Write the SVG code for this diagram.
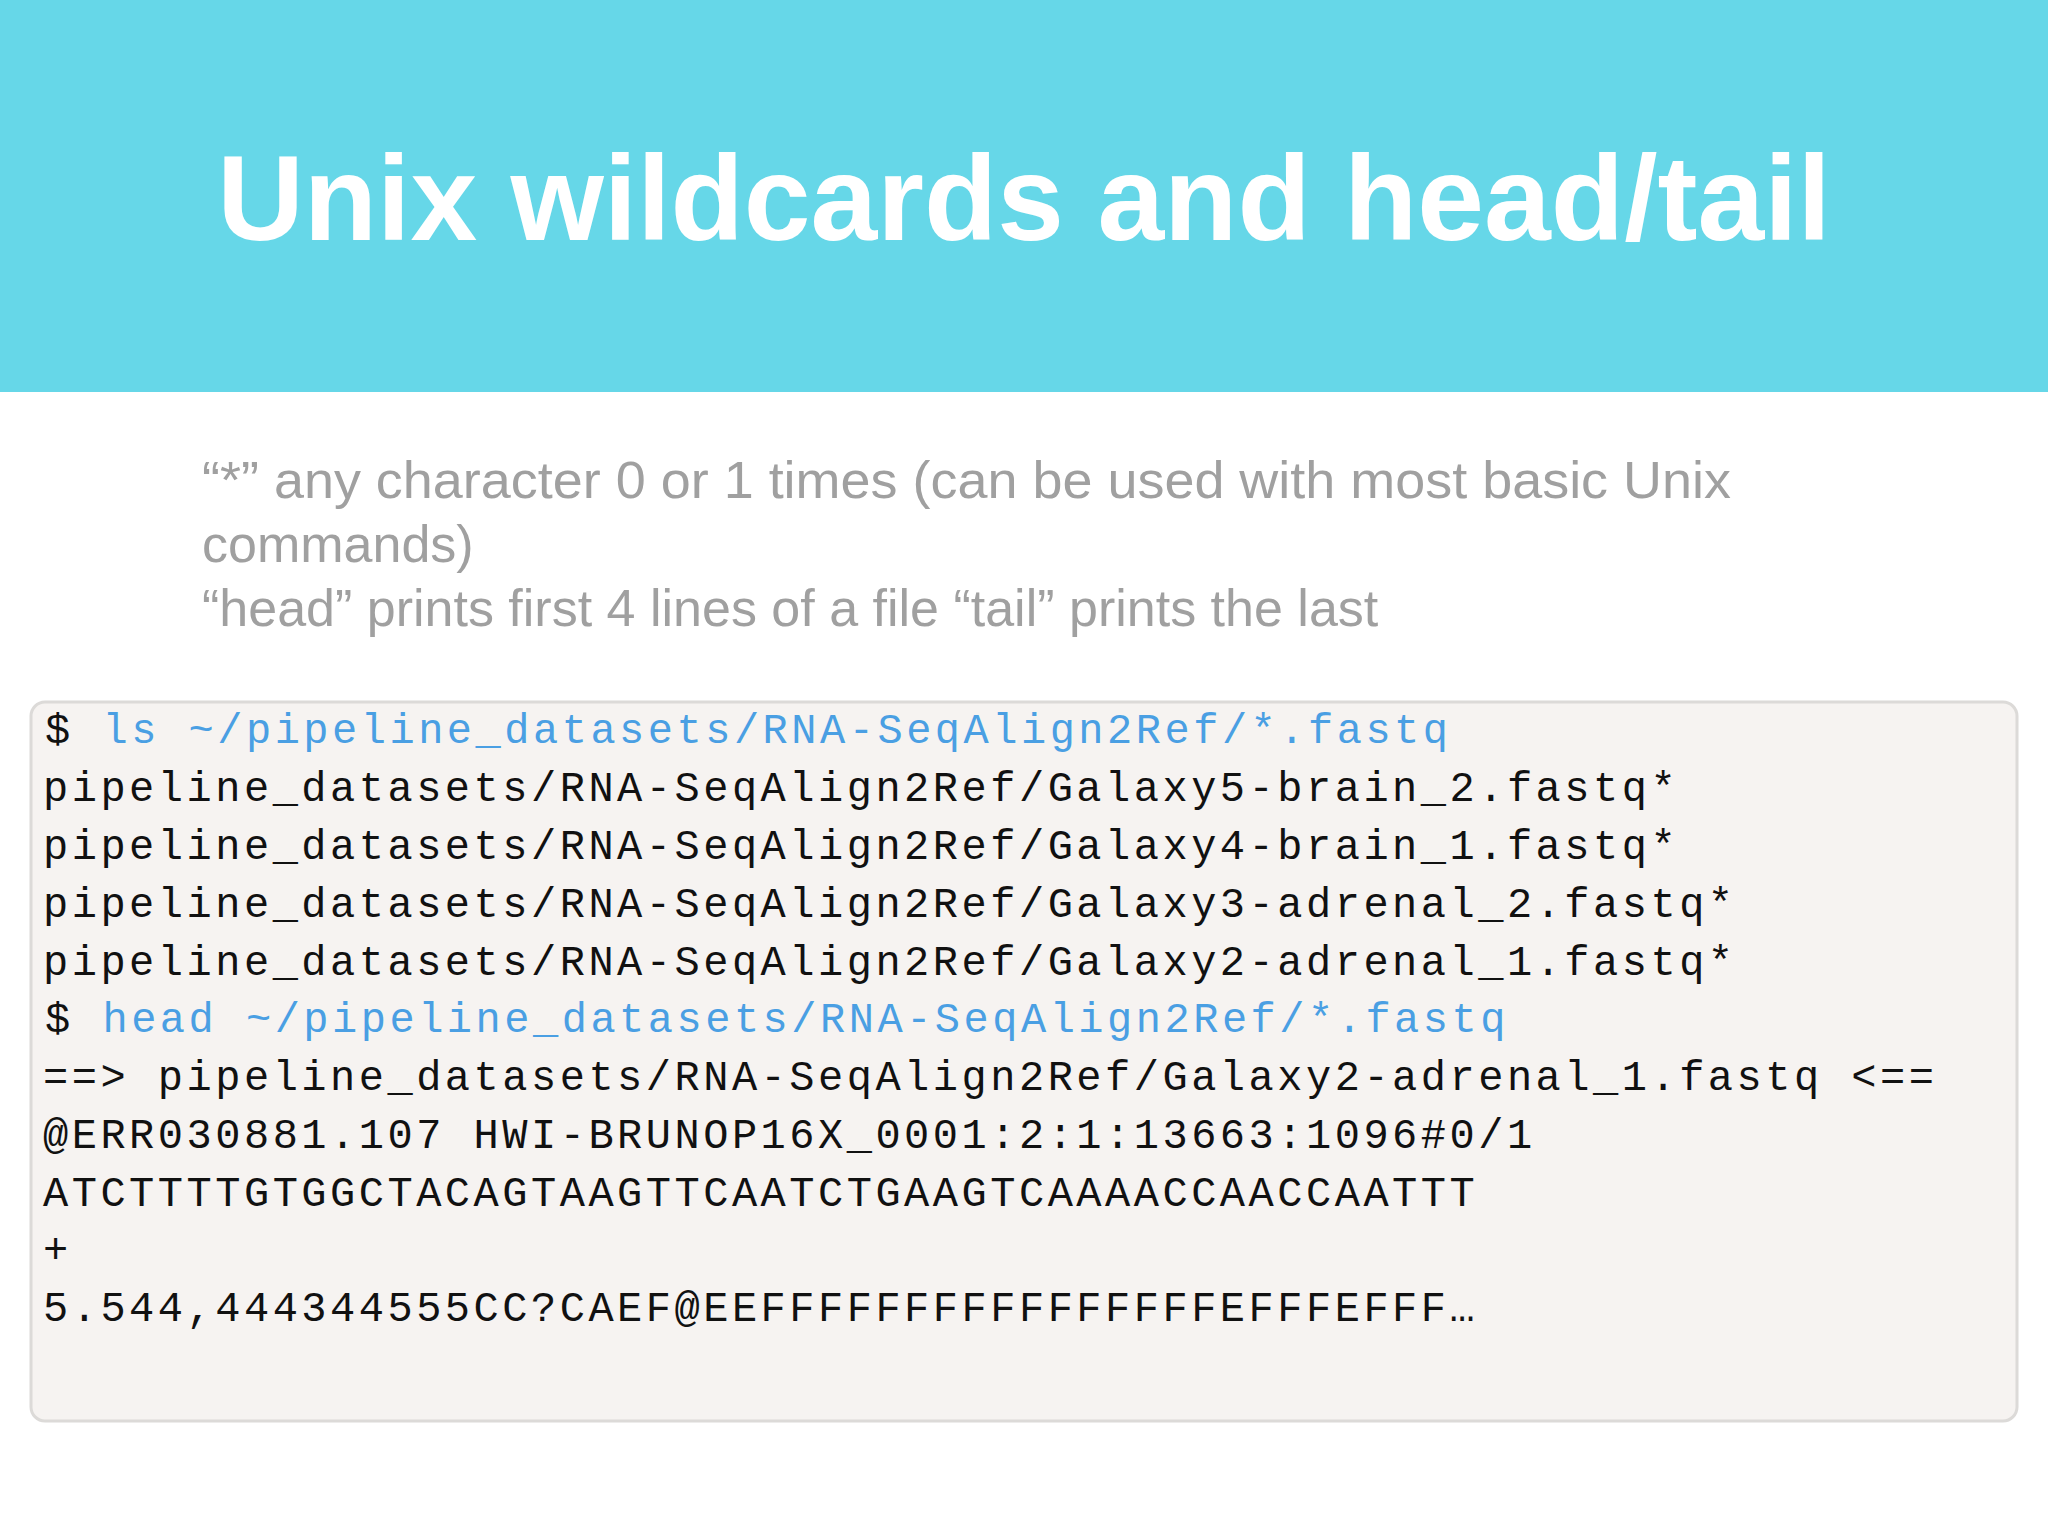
<svg xmlns="http://www.w3.org/2000/svg" width="2048" height="1536" viewBox="0 0 2048 1536">
<style>
.t{font-family:"Liberation Sans",Arial,sans-serif;font-weight:bold;fill:#fff}
.b{font-family:"Liberation Sans",Arial,sans-serif;fill:#a0a0a0;font-size:52px}
.m{font-family:"Liberation Mono","DejaVu Sans Mono",monospace;font-size:42px;letter-spacing:3.5px;fill:#111}
.c{fill:#4a9fe3}
</style>
<rect width="2048" height="1536" fill="#fff"/>
<g id="header">
<rect x="0" y="0" width="2048" height="392" fill="#66d7e8"/>
<text class="t" x="1024" y="240" font-size="120" text-anchor="middle">Unix wildcards and head/tail</text>
</g>
<g id="bullets">
<text class="b" x="202" y="498" textLength="1529" lengthAdjust="spacingAndGlyphs">“*” any character 0 or 1 times (can be used with most basic Unix</text>
<text class="b" x="202" y="562">commands)</text>
<text class="b" x="202" y="626">“head” prints first 4 lines of a file “tail” prints the last</text>
</g>
<g id="terminal">
<rect x="31" y="702" width="1986" height="719" rx="14" fill="#f6f3f1" stroke="#dcdad8" stroke-width="3"/>
<text class="m" x="45" y="743">$ <tspan class="c">ls ~/pipeline_datasets/RNA-SeqAlign2Ref/*.fastq</tspan></text>
<text class="m" x="43" y="801">pipeline_datasets/RNA-SeqAlign2Ref/Galaxy5-brain_2.fastq*</text>
<text class="m" x="43" y="859">pipeline_datasets/RNA-SeqAlign2Ref/Galaxy4-brain_1.fastq*</text>
<text class="m" x="43" y="917">pipeline_datasets/RNA-SeqAlign2Ref/Galaxy3-adrenal_2.fastq*</text>
<text class="m" x="43" y="975">pipeline_datasets/RNA-SeqAlign2Ref/Galaxy2-adrenal_1.fastq*</text>
<text class="m" x="45" y="1032">$ <tspan class="c">head ~/pipeline_datasets/RNA-SeqAlign2Ref/*.fastq</tspan></text>
<text class="m" x="43" y="1090">==&gt; pipeline_datasets/RNA-SeqAlign2Ref/Galaxy2-adrenal_1.fastq &lt;==</text>
<text class="m" x="43" y="1148">@ERR030881.107 HWI-BRUNOP16X_0001:2:1:13663:1096#0/1</text>
<text class="m" x="43" y="1206">ATCTTTTGTGGCTACAGTAAGTTCAATCTGAAGTCAAAACCAACCAATTT</text>
<text class="m" x="43" y="1263">+</text>
<text class="m" x="43" y="1321">5.544,444344555CC?CAEF@EEFFFFFFFFFFFFFFFFEFFFEFFF…</text>
</g>
</svg>
